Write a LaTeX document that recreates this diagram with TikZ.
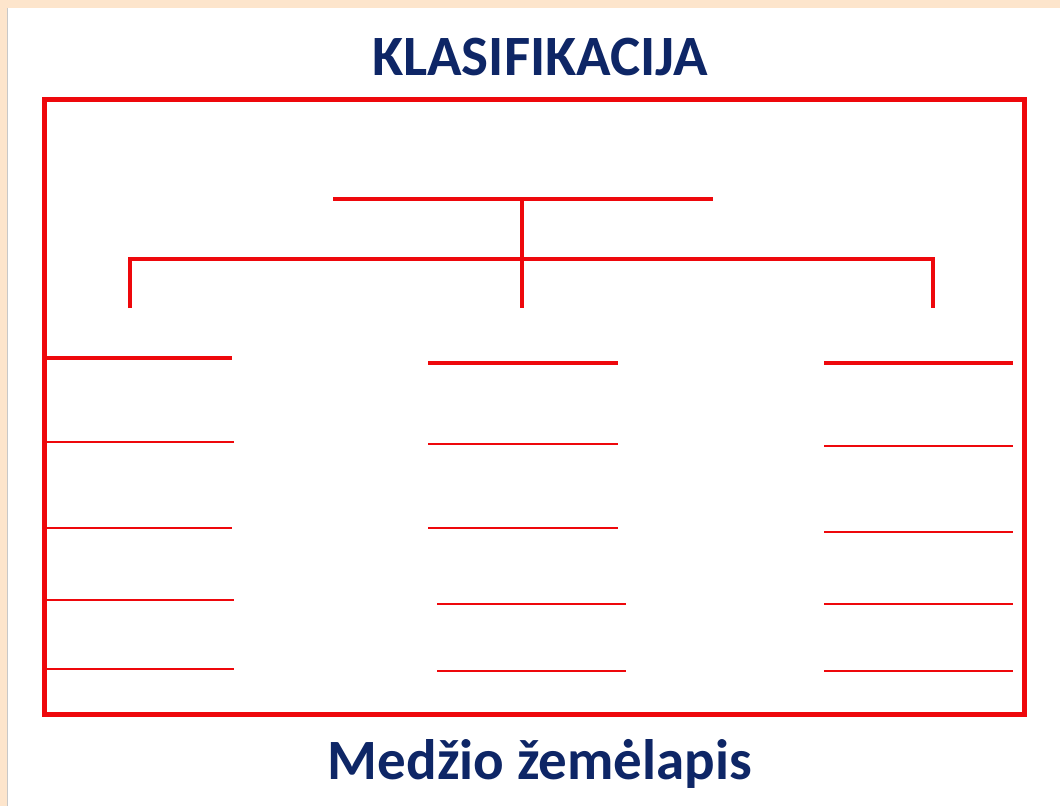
\documentclass[tikz,border=0pt]{standalone}
\usepackage{fontspec}
\setmainfont{Carlito}
\definecolor{beige}{RGB}{253,229,204}
\definecolor{navy}{RGB}{14,38,102}
\definecolor{lred}{RGB}{238,8,12}
\definecolor{edgegray}{RGB}{200,200,200}
\begin{document}
\begin{tikzpicture}[x=1pt,y=-1pt,
  thickline/.style={draw=lred,line width=4pt},
  thinline/.style={draw=lred,line width=2pt},
  framebox/.style={draw=lred,line width=5pt},
  titletext/.style={font=\fontsize{57}{60}\selectfont\bfseries,text=navy,inner sep=0pt}]
\useasboundingbox (0,0) rectangle (1060,806);
\fill[beige] (0,0) rectangle (1060,806);
\fill[white] (8,8) rectangle (1060,806);
\draw[edgegray,line width=1pt] (7.5,8) -- (7.5,806);
% title
\node[titletext,anchor=base] (title) at (540,75) {KLASIFIKACIJA};
\node[titletext,anchor=base] (sub) at (540,779) {Medžio žemėlapis};
% frame
\draw[framebox] (44.5,99.5) rectangle (1024.5,714.5);
% tree
\coordinate (top) at (522,199);
\coordinate (mid) at (522,259);
\draw[thickline] (333,199) -- (713,199);
\draw[thickline] (top) -- (522,308);
\draw[thickline] (130,308) -- (130,259) -- (933,259) -- (933,308);
% headers
\draw[thickline] (47,358) -- (232,358);
\draw[thickline] (428,363) -- (618,363);
\draw[thickline] (824,363) -- (1013,363);
% left column
\draw[thinline] (47,442) -- (234,442);
\draw[thinline] (47,528) -- (232,528);
\draw[thinline] (47,600) -- (234,600);
\draw[thinline] (47,669) -- (234,669);
% middle column
\draw[thinline] (428,444) -- (618,444);
\draw[thinline] (428,528) -- (618,528);
\draw[thinline] (437,604) -- (626,604);
\draw[thinline] (437,671) -- (626,671);
% right column
\draw[thinline] (824,446) -- (1013,446);
\draw[thinline] (824,532) -- (1013,532);
\draw[thinline] (824,604) -- (1013,604);
\draw[thinline] (824,671) -- (1013,671);
\end{tikzpicture}
\end{document}
